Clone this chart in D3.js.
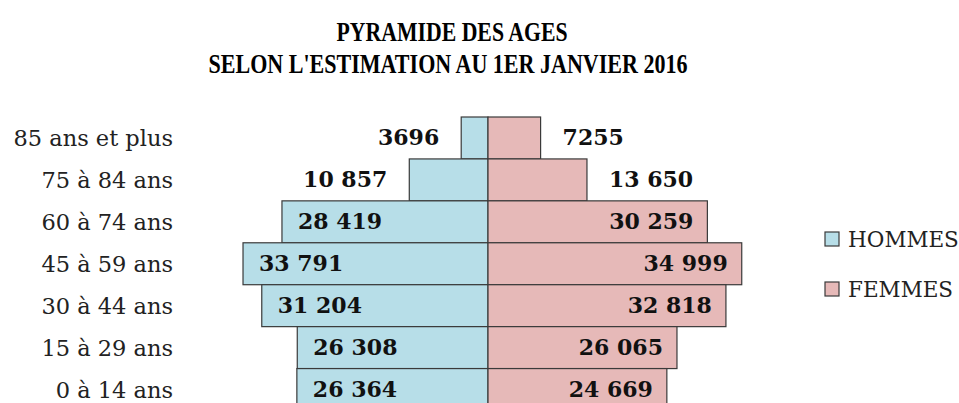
<!DOCTYPE html>
<html>
<head>
    <meta charset="utf-8">
    <style type="text/css">
        body { margin: 0; background: #fff; }
        #mySvg { width: 959px; height: 403px; display: block; }
        .title { font-family: "Liberation Serif", serif; font-weight: bold; font-size: 27px; fill: #000; text-anchor: middle; }
        .age { font-family: "DejaVu Serif", serif; font-size: 22.5px; fill: #222; text-anchor: end; }
        .val { font-family: "DejaVu Serif", serif; font-weight: bold; font-size: 22px; fill: #111; }
        .legend text { font-family: "DejaVu Serif", serif; font-size: 21.5px; fill: #222; }
        rect.bar { stroke: #3a3a3a; stroke-width: 1.2px; }
    </style>
    <script src="https://d3js.org/d3.v7.min.js"></script>
</head>
<body>
    <svg id="mySvg"></svg>
<script type="text/javascript">
// age groups, top of the pyramid first
const ageGroups = ["85 ans et plus", "75 à 84 ans", "60 à 74 ans", "45 à 59 ans", "30 à 44 ans", "15 à 29 ans", "0 à 14 ans"];
const hommes = [3696, 10857, 28419, 33791, 31204, 26308, 26364];
const femmes = [7255, 13650, 30259, 34999, 32818, 26065, 24669];
const seriesNames = ["HOMMES", "FEMMES"];
const titleLines = ["PYRAMIDE DES AGES", "SELON L'ESTIMATION AU 1ER JANVIER 2016"];

const colors = { HOMMES: "#b7dee8", FEMMES: "#e6b9b8" };

const svg = d3.select("#mySvg");
const center = 488;

const xLeft = d3.scaleLinear().domain([0, 40000]).range([center, center - 290]);
const xRight = d3.scaleLinear().domain([0, 40000]).range([center, center + 290]);
const y = d3.scaleBand().domain(ageGroups).range([117, 410.5]).padding(0);

// French style numbers: 4 digits stay packed, bigger ones get a space
const grouped = d3.formatLocale({ decimal: ",", thousands: " ", grouping: [3], currency: ["", " €"] }).format(",d");
const fmt = v => v >= 10000 ? grouped(v) : String(v);

// title (narrow bold serif, like the original)
svg.selectAll("text.title")
    .data(titleLines)
    .enter()
    .append("text")
    .attr("class", "title")
    .attr("x", (d, i) => i === 0 ? 452 : 448)
    .attr("y", (d, i) => i === 0 ? 41 : 73)
    .attr("textLength", (d, i) => i === 0 ? 231 : 479)
    .attr("lengthAdjust", "spacingAndGlyphs")
    .text(d => d);

const rows = ageGroups.map((a, i) => ({ age: a, h: hommes[i], f: femmes[i] }));

// bars
svg.append("g").selectAll("rect")
    .data(rows)
    .enter()
    .append("rect")
    .attr("class", "bar")
    .attr("x", d => xLeft(d.h))
    .attr("y", d => y(d.age))
    .attr("width", d => center - xLeft(d.h))
    .attr("height", y.bandwidth())
    .attr("fill", colors.HOMMES);

svg.append("g").selectAll("rect")
    .data(rows)
    .enter()
    .append("rect")
    .attr("class", "bar")
    .attr("x", center)
    .attr("y", d => y(d.age))
    .attr("width", d => xRight(d.f) - center)
    .attr("height", y.bandwidth())
    .attr("fill", colors.FEMMES);

// age labels
svg.append("g").selectAll("text")
    .data(rows)
    .enter()
    .append("text")
    .attr("class", "age")
    .attr("x", 173)
    .attr("y", d => y(d.age) + y.bandwidth() / 2 + 8.5)
    .text(d => d.age);

// value labels: outside for short bars, inside otherwise
const small = 15000;
svg.append("g").selectAll("text")
    .data(rows)
    .enter()
    .append("text")
    .attr("class", "val")
    .attr("x", d => d.h < small ? xLeft(d.h) - 22 : xLeft(d.h) + 16)
    .attr("y", d => y(d.age) + y.bandwidth() / 2 + 7)
    .attr("text-anchor", d => d.h < small ? "end" : "start")
    .text(d => fmt(d.h));

svg.append("g").selectAll("text")
    .data(rows)
    .enter()
    .append("text")
    .attr("class", "val")
    .attr("x", d => d.f < small ? xRight(d.f) + 22 : xRight(d.f) - 14)
    .attr("y", d => y(d.age) + y.bandwidth() / 2 + 7)
    .attr("text-anchor", d => d.f < small ? "start" : "end")
    .text(d => fmt(d.f));

// legend
const legend = svg.append("g")
    .attr("class", "legend")
    .selectAll("g")
    .data(seriesNames)
    .enter()
    .append("g")
    .attr("transform", (d, i) => "translate(825," + (232 + i * 50) + ")");

legend.append("rect")
    .attr("width", 14)
    .attr("height", 14)
    .attr("fill", d => colors[d])
    .attr("stroke", "#3a3a3a")
    .attr("stroke-width", 1.2);

legend.append("text")
    .attr("x", 23)
    .attr("y", 15)
    .text(d => d);
</script>
</body>
</html>
